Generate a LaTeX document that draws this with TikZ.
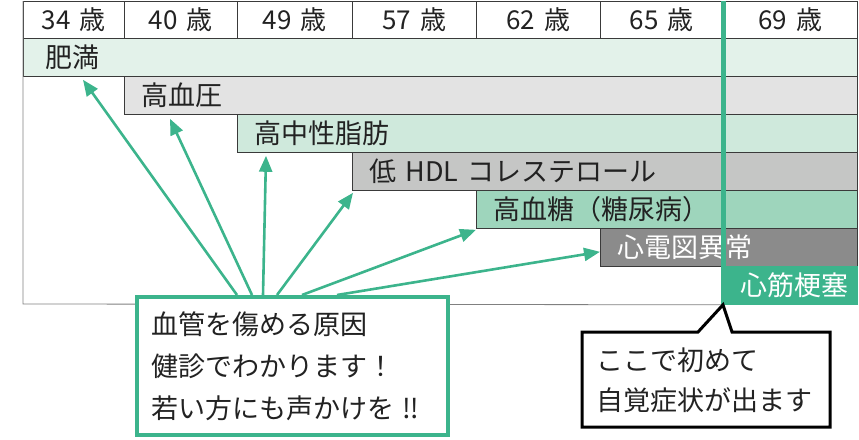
\documentclass[tikz,border=0pt]{standalone}
\usepackage{fontspec}
\setmainfont{Noto Sans CJK JP}
\usetikzlibrary{arrows.meta,calc}
\definecolor{tg}{HTML}{3CB48C}
\definecolor{c1}{HTML}{E3F2EA}
\definecolor{c2}{HTML}{E3E3E3}
\definecolor{c3}{HTML}{CFE9DC}
\definecolor{c4}{HTML}{C5C6C5}
\definecolor{c5}{HTML}{9ED5BC}
\definecolor{c6}{HTML}{8B8B8B}
\definecolor{txt}{HTML}{222222}
\definecolor{edge}{HTML}{3A3A3A}
\begin{document}
\begin{tikzpicture}[x=1pt,y=-1pt,
  hcell/.style={draw=edge, line width=0.8pt, anchor=north west, minimum height=37pt, inner sep=0pt, text=txt, font=\fontsize{26}{28}\selectfont},
  barb/.style={draw=edge, line width=0.8pt, anchor=north west, minimum height=38pt, inner ysep=0pt, inner xsep=17pt, align=left, text=txt, font=\fontsize{27}{30}\selectfont},
  garrow/.style={draw=tg, line width=2.6pt, -{Triangle[length=16pt,width=13pt]}},
  ctext/.style={anchor=north west, align=left, inner sep=0pt, text=txt}
]
\useasboundingbox (0,0) rectangle (859,439);
% header
\node[hcell, minimum width=101pt] (h1) at (23,1) {34\hspace{0.35em}歳};
\node[hcell, minimum width=113pt] (h2) at (124,1) {40\hspace{0.35em}歳};
\node[hcell, minimum width=115pt] (h3) at (237,1) {49\hspace{0.35em}歳};
\node[hcell, minimum width=124pt] (h4) at (352,1) {57\hspace{0.35em}歳};
\node[hcell, minimum width=124pt] (h5) at (476,1) {62\hspace{0.35em}歳};
\node[hcell, minimum width=123pt] (h6) at (600,1) {65\hspace{0.35em}歳};
\node[hcell, minimum width=134pt] (h7) at (723,1) {69\hspace{0.35em}歳};
% bars
\node[barb, fill=c1, text width=790pt, inner xsep=22pt] (b1) at (23,38) {肥満};
\node[barb, fill=c2, text width=699pt] (b2) at (124,76) {高血圧};
\node[barb, fill=c3, text width=586pt] (b3) at (237,114) {高中性脂肪};
\node[barb, fill=c4, text width=471pt] (b4) at (352,152) {低 HDL コレステロール};
\node[barb, fill=c5, text width=347pt] (b5) at (476,190) {高血糖（糖尿病）};
\node[barb, fill=c6, text width=223pt, text=white] (b6) at (600,228) {心電図異常};
\node[barb, fill=tg, draw=tg, text width=100pt, text=white] (b7) at (723,266) {心筋梗塞};
% table frame
\draw[draw=gray, line width=0.8pt] (23,1) -- (23,304) -- (b7.south west);
% green vertical marker
\draw[draw=tg, line width=5pt] (h7.north west) -- (b7.south west);
% arrow tips and origins
\coordinate (t1) at ($(b1.south west)+(60,3)$);
\coordinate (t2) at ($(b2.south west)+(46,4)$);
\coordinate (t3) at ($(b3.south west)+(29,3)$);
\coordinate (t4) at ($(b4.south west)+(1,2)$);
\coordinate (t5) at ($(b5.south west)+(0,1)$);
\coordinate (t6) at ($(b6.south west)+(0,-15)$);
\coordinate (cbtl) at (135,295);
\coordinate (s1) at ($(cbtl)+(102,0)$);
\coordinate (s2) at ($(cbtl)+(117,0)$);
\coordinate (s3) at ($(cbtl)+(128,0)$);
\coordinate (s4) at ($(cbtl)+(142,0)$);
\coordinate (s5) at ($(cbtl)+(167,0)$);
\coordinate (s6) at ($(cbtl)+(202,0)$);
\draw[garrow] (s1) -- (t1);
\draw[garrow] (s2) -- (t2);
\draw[garrow] (s3) -- (t3);
\draw[garrow] (s4) -- (t4);
\draw[garrow] (s5) -- (t5);
\draw[garrow] (s6) -- (t6);
% left callout
\node[draw=tg, line width=4pt, fill=white, anchor=north west, minimum width=311pt, minimum height=138pt, inner xsep=14pt, text width=283pt, align=left, text=txt, font=\fontsize{27}{42}\selectfont] (cb) at (cbtl) {血管を傷める原因\\健診でわかります！\\若い方にも声かけを ‼};
% right callout
\filldraw[fill=white, draw=black, line width=3pt, line join=miter] (582,332) -- (698,332) -- (b7.south west) -- (732,332) -- (830,332) -- (830,427) -- (582,427) -- cycle;
\node[ctext, font=\fontsize{27}{40}\selectfont] (cr) at (596,348) {ここで初めて\\自覚症状が出ます};
\end{tikzpicture}
\end{document}
